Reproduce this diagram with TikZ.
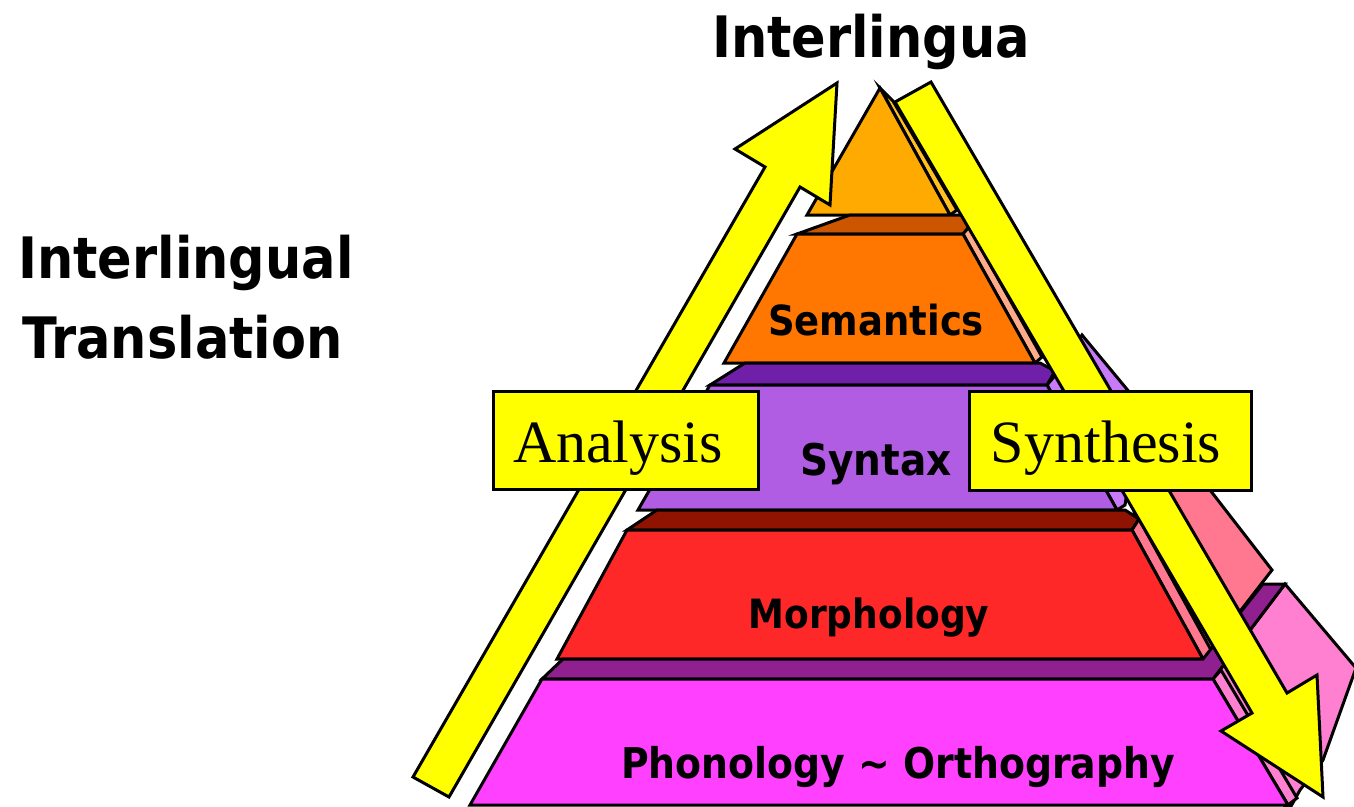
\documentclass[tikz,border=0pt]{standalone}
\usepackage{fontspec}
\setmainfont{Liberation Serif}
\newfontfamily\labelfont{DejaVu Sans}
\newcommand{\tall}[1]{\scalebox{1}[1.12]{#1}}
\definecolor{apexfront}{HTML}{FFAA00}
\definecolor{apexside}{HTML}{FFC020}
\definecolor{semtop}{HTML}{CC5500}
\definecolor{semfront}{HTML}{FF7700}
\definecolor{semside}{HTML}{FFAA88}
\definecolor{syntop}{HTML}{7020A8}
\definecolor{synfront}{HTML}{B05CE3}
\definecolor{synside}{HTML}{C87AF8}
\definecolor{morphtop}{HTML}{901200}
\definecolor{morphfront}{HTML}{FF2828}
\definecolor{morphside}{HTML}{FF7890}
\definecolor{phontop}{HTML}{902090}
\definecolor{phonfront}{HTML}{FF40FF}
\definecolor{phonside}{HTML}{FF80D0}
\definecolor{arrowyellow}{HTML}{FFFF00}
\begin{document}
\begin{tikzpicture}[x=1pt,y=-1pt,
  face/.style={draw=black,line width=3pt,line join=miter},
  bigarrow/.style={face,fill=arrowyellow},
  stagebox/.style={draw=black,line width=3pt,fill=arrowyellow,inner sep=0pt},
  boxtext/.style={font=\fontsize{60}{66}\selectfont,anchor=base,inner sep=0pt},
  layertext/.style={anchor=base,inner sep=0pt},
  titletext/.style={font=\labelfont\bfseries\fontsize{51}{60}\selectfont,inner sep=0pt}]
\useasboundingbox (0,0) rectangle (1354,806);
\clip (0,0) rectangle (1354,806);

% side faces seen behind the layers
\draw[face,fill=phonside] (1213,679) -- (1285,584) -- (1356,668) -- (1323,760) -- (1300,790) -- (1290,808) -- (1286,808) -- cycle;
\draw[face,fill=morphside] (1132,530) -- (1145,420) -- (1210,490) -- (1272,570) -- (1203,659) -- cycle;
\draw[face,fill=synside] (1047,385) -- (1058,372) -- (1082,335) -- (1140,405) -- (1125,505) -- (1117,510) -- cycle;

% apex
\draw[face,fill=apexside] (880,88) -- (893,101) -- (957,210) -- (950,215) -- cycle;
\draw[face,fill=apexfront] (880,88) -- (950,215) -- (807,215) -- cycle;

% semantics layer
\draw[face,fill=semtop] (850,215) -- (963,215) -- (969,227) -- (963,234) -- (797,234) -- cycle;
\draw[face,fill=semside] (963,234) -- (969,227) -- (1042,357) -- (1035,363) -- cycle;
\draw[face,fill=semfront] (797,234) -- (963,234) -- (1035,363) -- (724,363) -- cycle;

% syntax layer
\draw[face,fill=syntop] (745,363) -- (1040,363) -- (1055,371) -- (1047,385) -- (710,385) -- cycle;
\draw[face,fill=synfront] (710,385) -- (1047,385) -- (1117,510) -- (638,510) -- cycle;

% morphology layer
\draw[face,fill=morphtop] (657,510) -- (1125,510) -- (1139,519) -- (1132,530) -- (627,530) -- cycle;
\draw[face,fill=morphside] (1132,530) -- (1139,519) -- (1211,650) -- (1203,659) -- cycle;
\draw[face,fill=morphfront] (627,530) -- (1132,530) -- (1203,659) -- (557,659) -- cycle;

% phonology layer
\draw[face,fill=phontop] (563,659) -- (1203,659) -- (1263,584) -- (1285,584) -- (1213,679) -- (542,679) -- cycle;
\draw[face,fill=phonside] (1213,679) -- (1221,670) -- (1297,798) -- (1288,805) -- cycle;
\draw[face,fill=phonfront] (542,679) -- (1213,679) -- (1288,805) -- (470,805) -- cycle;

% analysis and synthesis arrows
\draw[bigarrow] (413,777) -- (765,167) -- (735,149) -- (837,83) -- (830,205) -- (800,187) -- (449,797) -- cycle;
\draw[bigarrow] (931,82) -- (1287,693) -- (1317,675) -- (1323,797) -- (1221,731) -- (1252,713) -- (895,102) -- cycle;

% layer labels
\node[layertext,font=\labelfont\bfseries\fontsize{37}{44}\selectfont] (sem) at (876,335) {\tall{Semantics}};
\node[layertext,font=\labelfont\bfseries\fontsize{39}{46}\selectfont] (syn) at (876,475) {\tall{Syntax}};
\node[layertext,font=\labelfont\bfseries\fontsize{36}{44}\selectfont] (mor) at (869,628) {\tall{Morphology}};
\node[layertext,font=\labelfont\bfseries\fontsize{37.8}{44}\selectfont] (pho) at (898,778) {\tall{Phonology \textasciitilde{} Orthography}};

% stage boxes
\node[stagebox,minimum width=265pt,minimum height=98pt,anchor=north west] (anabox) at (492,390) {};
\node[boxtext] (ana) at (618,462) {Analysis};
\node[stagebox,minimum width=282pt,minimum height=99pt,anchor=north west] (synbox) at (968,390) {};
\node[boxtext] (synth) at (1106,462) {Synthesis};

% titles
\node[titletext,anchor=base] (inter) at (871,57) {\tall{Interlingua}};
\node[titletext,anchor=base west] (title1) at (18,278) {\tall{Interlingual}};
\node[titletext,anchor=base west] (title2) at (22,358) {\tall{Translation}};
\end{tikzpicture}
\end{document}
